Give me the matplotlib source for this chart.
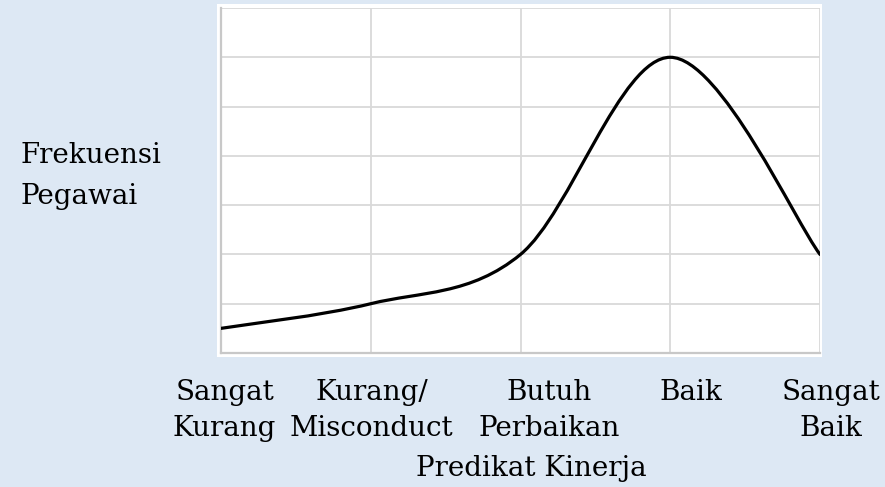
import matplotlib
matplotlib.use("Agg")
import matplotlib.pyplot as plt
from matplotlib.path import Path
from matplotlib.patches import PathPatch, Rectangle
from matplotlib.transforms import ScaledTranslation
import numpy as np

# Data
categories = ["Sangat\nKurang", "Kurang/\nMisconduct", "Butuh\nPerbaikan", "Baik", "Sangat\nBaik"]
frekuensi = [0.5, 1.0, 2.0, 6.0, 2.0]
y_label = "Frekuensi\nPegawai"
x_label = "Predikat Kinerja"

BG = "#dde8f4"
GRID = "#d9d9d9"
FONT = ["DejaVu Serif"]
FS = 20

fig = plt.figure(figsize=(8.85, 4.87), dpi=100, facecolor=BG)
W, H = 885, 487

# white chart area
fig.patches.append(Rectangle((217 / W, 1 - 357 / H), (822 - 217) / W, (357 - 4) / H,
                             transform=fig.transFigure, facecolor="white", edgecolor="none", zorder=-5))

ax = fig.add_axes([221 / W, 1 - 353 / H, (820 - 221) / W, (353 - 8) / H])
ax.set_zorder(2)
ax.set_facecolor("white")
ax.set_xlim(0, len(categories) - 1)
ax.set_ylim(0, 7)
ax.set_yticks(range(0, 8))
ax.set_yticklabels([])
ax.tick_params(axis="y", length=0)
ax.grid(True, color=GRID, linewidth=1.3)
ax.set_axisbelow(True)
for side in ["top", "right"]:
    ax.spines[side].set_visible(False)
for side in ["left", "bottom"]:
    ax.spines[side].set_color("#c8c8c8")
    ax.spines[side].set_linewidth(1.6)

# smoothed line (cubic Bezier through data points, Catmull-Rom style tangents)
x = np.arange(len(frekuensi), dtype=float)
y = np.array(frekuensi, dtype=float)
n = len(x)
verts = [(x[0], y[0])]
codes = [Path.MOVETO]
for i in range(n - 1):
    p0 = (x[max(i - 1, 0)], y[max(i - 1, 0)])
    p1 = (x[i], y[i])
    p2 = (x[i + 1], y[i + 1])
    p3 = (x[min(i + 2, n - 1)], y[min(i + 2, n - 1)])
    c1 = (p1[0] + (p2[0] - p0[0]) / 6, p1[1] + (p2[1] - p0[1]) / 6)
    c2 = (p2[0] - (p3[0] - p1[0]) / 6, p2[1] - (p3[1] - p1[1]) / 6)
    verts += [c1, c2, p2]
    codes += [Path.CURVE4] * 3
ax.add_patch(PathPatch(Path(verts, codes), facecolor="none", edgecolor="black",
                       linewidth=2.3, capstyle="round", joinstyle="round", zorder=3))

# x tick labels
ax.set_xticks(range(len(categories)))
ax.set_xticklabels(categories, fontsize=FS, family=FONT, linespacing=1.39)
ax.tick_params(axis="x", length=0, pad=19)
offsets_px = [3.5, 1, 29, 21, 11]
for lbl, dx in zip(ax.get_xticklabels(), offsets_px):
    lbl.set_transform(lbl.get_transform() + ScaledTranslation(dx / 100, 0, fig.dpi_scale_trans))

fig.text(20 / W, 1 - 142 / H, y_label, fontsize=FS, family=FONT, ha="left", va="top", linespacing=1.65)
fig.text(531 / W, 1 - 455 / H, x_label, fontsize=FS, family=FONT, ha="center", va="top")

fig.savefig("out.png", dpi=100, facecolor=BG)
